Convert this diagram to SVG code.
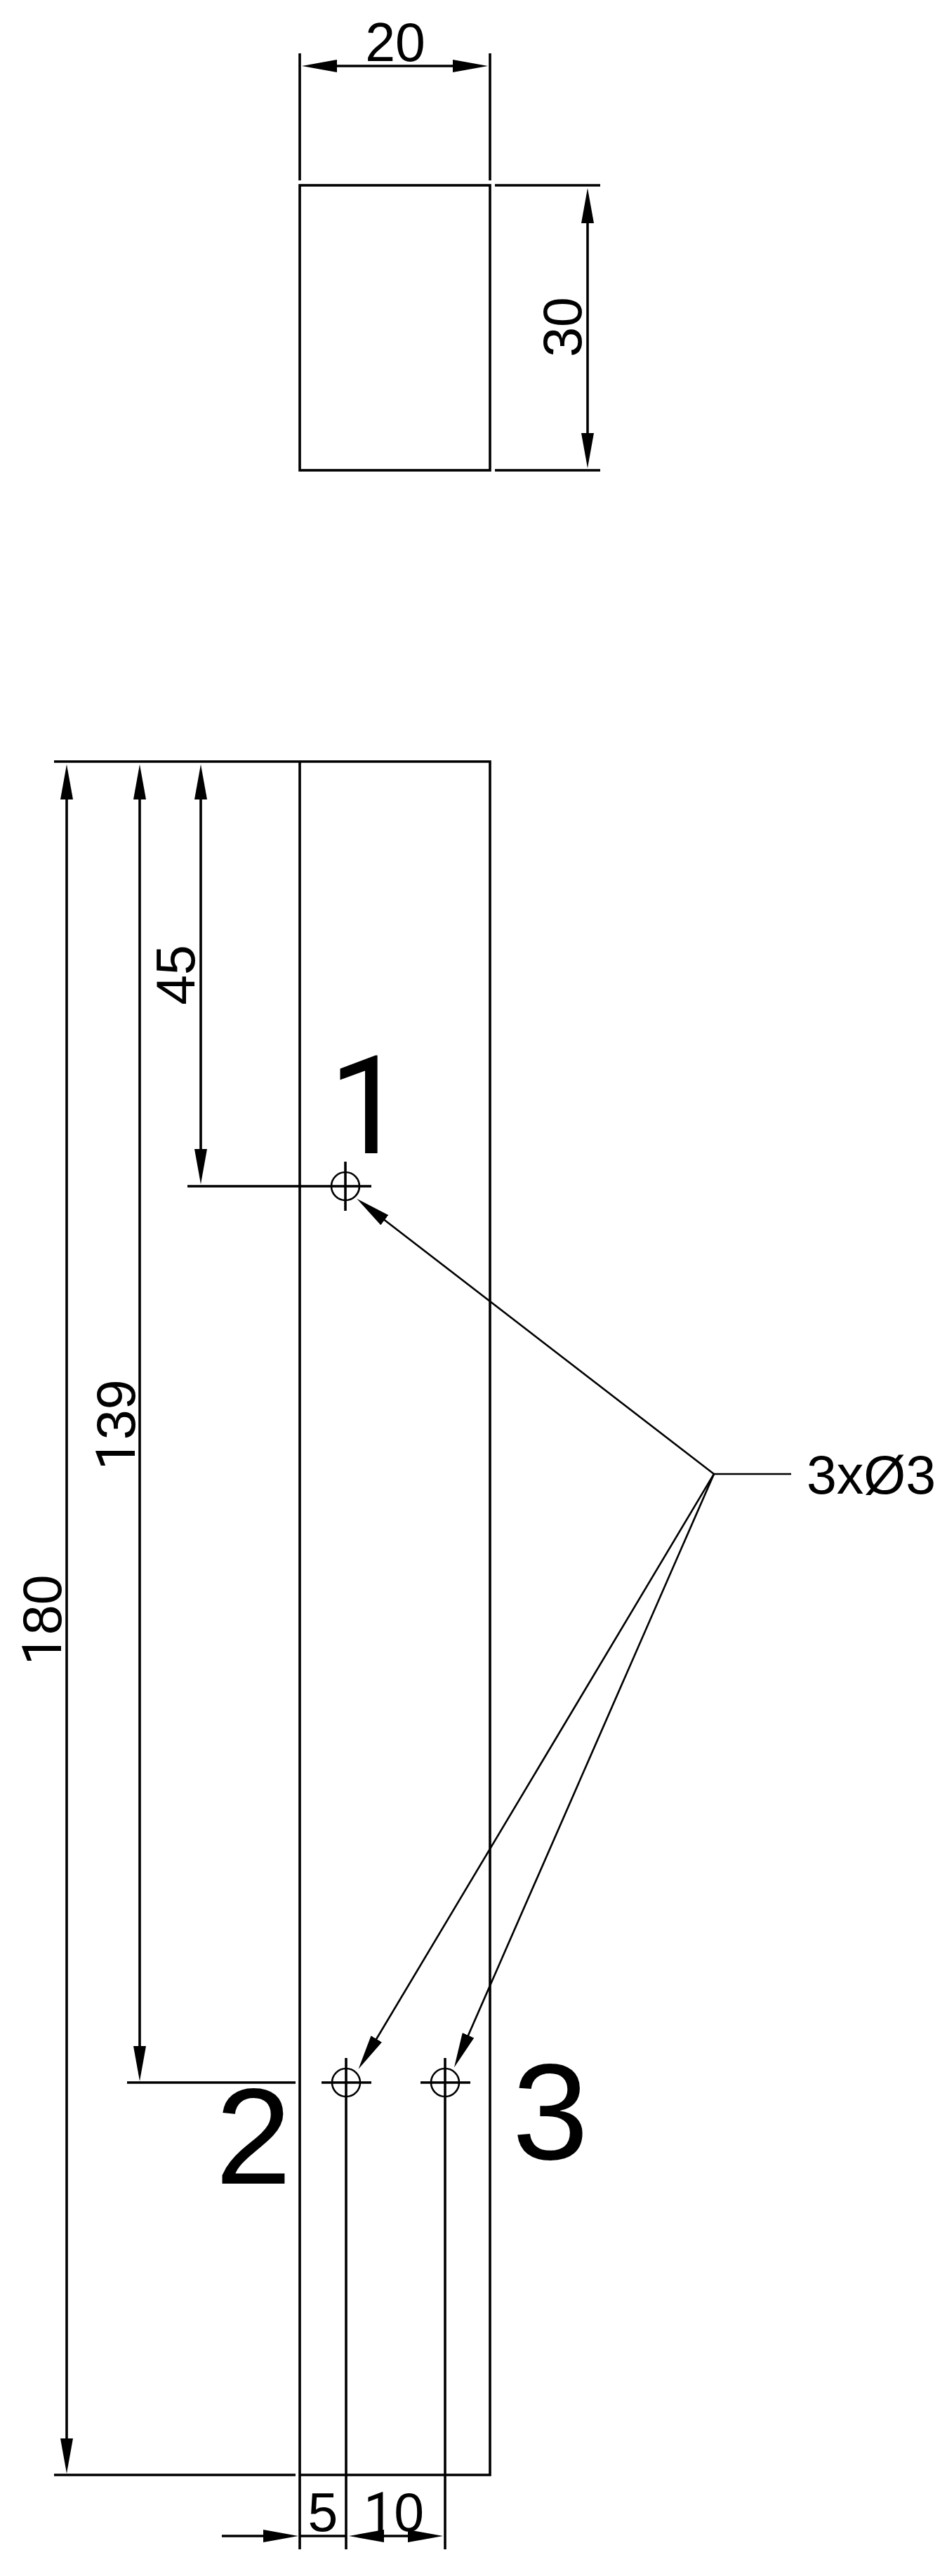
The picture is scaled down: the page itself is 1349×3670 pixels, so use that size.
<svg xmlns="http://www.w3.org/2000/svg" width="1349" height="3670" viewBox="0 0 1349 3670">
<style>
.l{stroke:#000;stroke-width:3.6;fill:none}
.c{stroke:#000;stroke-width:2.6;fill:none}
.t{font-family:"Liberation Sans",Arial,sans-serif;font-size:77px;fill:#000;text-anchor:middle}
.b{font-size:195px}
.o{font-family:Roboto,"Liberation Sans",sans-serif}
</style>
<defs>
<marker id="a" markerUnits="userSpaceOnUse" markerWidth="50" markerHeight="18" viewBox="0 0 50 18" refX="20" refY="9" orient="auto-start-reverse"><polygon points="0,0 50,9 0,18" fill="#000"/></marker>
</defs>
<rect width="1349" height="3670" fill="#fff"/>
<g id="top-view">
<rect class="l" x="427" y="264" width="271" height="406"/>
</g>
<g id="front-view">
<path class="l" d="M427 1085H698V3526H427"/>
<path class="l" d="M427 1085V3632"/>
</g>
<g id="hole-1">
<circle class="c" cx="492" cy="1690" r="20"/>
<path class="l" d="M492 1655V1725"/>
</g>
<g id="hole-2">
<circle class="c" cx="493" cy="2967" r="20"/>
<path class="l" d="M458 2967H529M493 2932V3632"/>
</g>
<g id="hole-3">
<circle class="c" cx="634" cy="2967" r="20"/>
<path class="l" d="M599 2967H670M634 2932V3632"/>
</g>
<g id="connectors">
<path class="l" d="M427 76V257M698 76V257M705 264H855M705 670H855"/>
<path class="l" d="M77 1085H427M267 1690H529M181 2967H421M77 3526H421"/>
<line class="l" x1="460" y1="94" x2="665" y2="94" marker-start="url(#a)" marker-end="url(#a)"/>
<line class="l" x1="837" y1="298" x2="837" y2="637" marker-start="url(#a)" marker-end="url(#a)"/>
<line class="l" x1="95" y1="1119" x2="95" y2="3494" marker-start="url(#a)" marker-end="url(#a)"/>
<line class="l" x1="199" y1="1119" x2="199" y2="2935" marker-start="url(#a)" marker-end="url(#a)"/>
<line class="l" x1="286" y1="1119" x2="286" y2="1657" marker-start="url(#a)" marker-end="url(#a)"/>
<line class="l" x1="316" y1="3613" x2="395" y2="3613" marker-end="url(#a)"/>
<path class="l" d="M427 3613H493"/>
<line class="l" x1="527" y1="3613" x2="601" y2="3613" marker-start="url(#a)" marker-end="url(#a)"/>
<path class="c" d="M1127 2100H1017"/>
<line class="c" x1="1017" y1="2100" x2="532" y2="1726" marker-end="url(#a)"/>
<line class="c" x1="1017" y1="2100" x2="526" y2="2922" marker-end="url(#a)"/>
<line class="c" x1="1017" y1="2100" x2="659" y2="2918" marker-end="url(#a)"/>
</g>
<g id="labels">
<text class="t" x="563" y="87">20</text>
<text class="t" transform="translate(828 466) rotate(-90)">30</text>
<text class="t" transform="translate(277 1389) rotate(-90)">45</text>
<text class="t" transform="translate(192 2030) rotate(-90)"><tspan class="o">1</tspan>39</text>
<text class="t" transform="translate(87 2308) rotate(-90)"><tspan class="o">1</tspan>80</text>
<text class="t" x="460" y="3606">5</text>
<text class="t" x="561" y="3606"><tspan class="o">1</tspan>0</text>
<text class="t" x="1241" y="2128">3xØ3</text>
<text class="t b o" x="523" y="1643">1</text>
<text class="t b" x="361" y="3111">2</text>
<text class="t b" x="784" y="3076">3</text>
</g>
</svg>
